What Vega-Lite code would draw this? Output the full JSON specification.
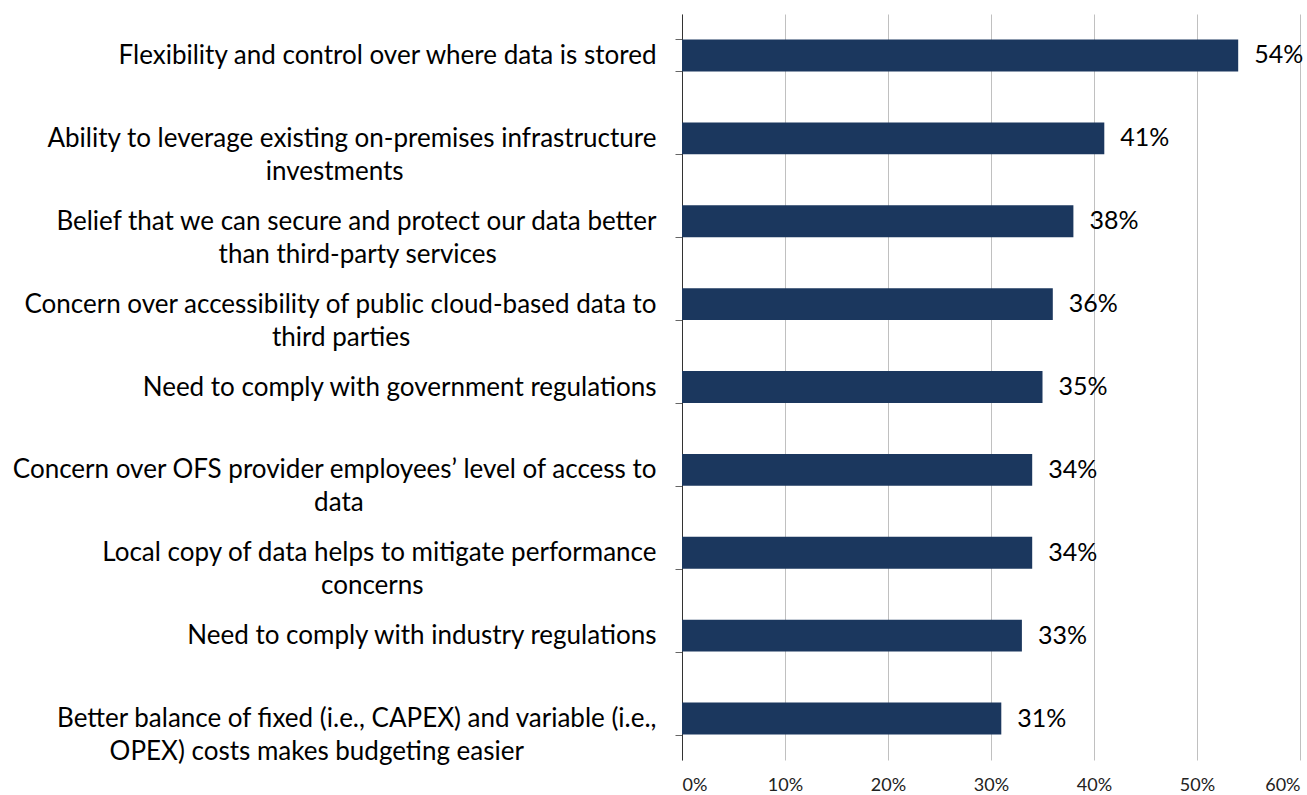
{
  "$schema": "https://vega.github.io/schema/vega-lite/v6.json",
  "autosize": {"type": "none"},
  "padding": {"left": 682, "top": 14, "right": 7, "bottom": 35},
  "width": 618,
  "height": 746,
  "background": "white",
  "config": {"view": {"stroke": null}, "font": "Lato"},
  "data": {
    "values": [
      {"reason": "Flexibility and control over where data is stored", "share": 0.54},
      {"reason": "Ability to leverage existing on-premises infrastructure|investments", "share": 0.41},
      {"reason": "Belief that we can secure and protect our data better|than third-party services", "share": 0.38},
      {"reason": "Concern over accessibility of public cloud-based data to|third parties", "share": 0.36},
      {"reason": "Need to comply with government regulations", "share": 0.35},
      {"reason": "Concern over OFS provider employees’ level of access to|data", "share": 0.34},
      {"reason": "Local copy of data helps to mitigate performance|concerns", "share": 0.34},
      {"reason": "Need to comply with industry regulations", "share": 0.33},
      {"reason": "Better balance of fixed (i.e., CAPEX) and variable (i.e.,|OPEX) costs makes budgeting easier", "share": 0.31}
    ]
  },
  "encoding": {
    "y": {
      "field": "reason",
      "type": "nominal",
      "sort": null,
      "title": null,
      "scale": {"paddingInner": 0.615, "paddingOuter": 0.3075},
      "axis": {
        "domainColor": "#333333",
        "tickColor": "#666666",
        "tickSize": 7,
        "tickBand": "extent",
        "labelFont": "Lato",
        "labelFontSize": 26,
        "labelColor": "#000000",
        "labelPadding": 19,
        "labelLimit": 700,
        "labelLineHeight": 33,
        "labelExpr": "length(split(datum.label,'|'))>1 ? [split(datum.label,'|')[0], pad(split(datum.label,'|')[1], length(split(datum.label,'|')[1]) + round((length(split(datum.label,'|')[0]) - length(split(datum.label,'|')[1])) * 0.87), '\u00a0') + '\u2060'] : datum.label"
      }
    },
    "x": {
      "field": "share",
      "type": "quantitative",
      "title": null,
      "scale": {"domain": [0, 0.6], "nice": false},
      "axis": {
        "values": [0, 0.1, 0.2, 0.3, 0.4, 0.5, 0.6],
        "format": ".0%",
        "grid": true,
        "gridColor": "#c0c0c0",
        "domain": false,
        "ticks": false,
        "labelFont": "Lato",
        "labelFontSize": 18,
        "labelColor": "#222222",
        "labelPadding": 16
      }
    }
  },
  "layer": [
    {"mark": {"type": "bar", "color": "#1b375e"}},
    {
      "mark": {"type": "text", "align": "left", "baseline": "middle", "dx": 16, "fontSize": 25, "font": "Lato", "color": "#000000"},
      "encoding": {"text": {"field": "share", "type": "quantitative", "format": ".0%"}}
    }
  ]
}
